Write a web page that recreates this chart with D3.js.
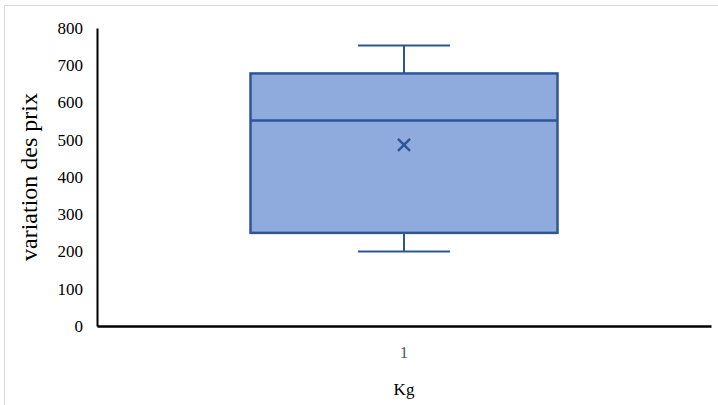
<!DOCTYPE html>
<html>
<head>
<meta charset="utf-8">
<script src="https://cdn.jsdelivr.net/npm/d3@7"></script>
<style>
  body { margin: 0; background: #fff; }
  text { font-family: 'Liberation Serif', 'Times New Roman', serif; }
</style>
</head>
<body>
<div id="svg"></div>
<script>
// data
let categories = ['1']
let boxLow = [250]
let boxHigh = [678]
let medians = [552]
let means = [486]
let whiskerLow = [200]
let whiskerHigh = [753]
let yTicks = [0, 100, 200, 300, 400, 500, 600, 700, 800]

let width = 718, height = 405
let margin = {top: 28, right: 7, bottom: 79, left: 97}

let svg = d3.select('#svg')
.append('svg')
.attr('width', width)
.attr('height', height)

// outer frame
svg.append('rect')
.attr('x', 4.5)
.attr('y', 5.5)
.attr('width', width)
.attr('height', height)
.style('fill', 'none')
.style('stroke', '#d9d9d9')
.style('stroke-width', 1)

let xScale = d3.scaleBand()
.domain(categories)
.range([margin.left, width - margin.right])
.paddingInner(0)
.paddingOuter(0)

let yScale = d3.scaleLinear()
.domain([0, 800])
.range([height - margin.bottom, margin.top])

let boxes = categories.map((c, i) => ({
	cat: c, low: boxLow[i], high: boxHigh[i], median: medians[i],
	mean: means[i], wLow: whiskerLow[i], wHigh: whiskerHigh[i]
}))

let blue = '#2f5597'
let boxW = xScale.bandwidth() * 0.5
let capW = boxW * 0.3

let g = svg.selectAll('.box')
.data(boxes)
.join('g')
.attr('class', 'box')
.attr('transform', d => `translate(${xScale(d.cat) + xScale.bandwidth() / 2}, 0)`)

// whiskers
g.append('line')
.attr('x1', 0).attr('x2', 0)
.attr('y1', d => yScale(d.wHigh)).attr('y2', d => yScale(d.high))
.style('stroke', blue).style('stroke-width', 2)
g.append('line')
.attr('x1', 0).attr('x2', 0)
.attr('y1', d => yScale(d.low)).attr('y2', d => yScale(d.wLow))
.style('stroke', blue).style('stroke-width', 2)
g.append('line')
.attr('x1', -capW / 2).attr('x2', capW / 2)
.attr('y1', d => yScale(d.wHigh)).attr('y2', d => yScale(d.wHigh))
.style('stroke', blue).style('stroke-width', 2)
g.append('line')
.attr('x1', -capW / 2).attr('x2', capW / 2)
.attr('y1', d => yScale(d.wLow)).attr('y2', d => yScale(d.wLow))
.style('stroke', blue).style('stroke-width', 2)

// box
g.append('rect')
.attr('x', -boxW / 2)
.attr('width', boxW)
.attr('y', d => yScale(d.high))
.attr('height', d => yScale(d.low) - yScale(d.high))
.style('fill', '#8faadc')
.style('stroke', blue)
.style('stroke-width', 2.5)

// median
g.append('line')
.attr('x1', -boxW / 2).attr('x2', boxW / 2)
.attr('y1', d => yScale(d.median)).attr('y2', d => yScale(d.median))
.style('stroke', blue).style('stroke-width', 2.5)

// mean marker
g.append('path')
.attr('d', d => {
	let y = yScale(d.mean), s = 6
	return `M${-s},${y - s}L${s},${y + s}M${-s},${y + s}L${s},${y - s}`
})
.style('stroke', blue).style('stroke-width', 2.5).style('fill', 'none')

// axes
let yAxis = svg.append('g')
.attr('transform', `translate(${margin.left}, 0)`)
.call(d3.axisLeft(yScale).tickValues(yTicks).tickSize(0).tickPadding(14))
yAxis.select('.domain').style('stroke', '#000').style('stroke-width', 2)
yAxis.selectAll('text').style('font-size', '17px').style('fill', '#000')
.style('font-family', "'Liberation Serif', serif")

let xAxis = svg.append('g')
.attr('transform', `translate(0, ${height - margin.bottom})`)
.call(d3.axisBottom(xScale).tickSize(0).tickPadding(20))
xAxis.select('.domain').style('stroke', '#000').style('stroke-width', 2.5)
xAxis.selectAll('text').style('font-size', '17px').style('fill', '#595959')
.style('font-family', "'Liberation Serif', serif")

svg.append('text')
.text('variation des prix')
.attr('transform', `translate(37, ${yScale(400)})rotate(-90)`)
.style('text-anchor', 'middle')
.style('font-size', '24px')
.style('fill', '#000')

svg.append('text')
.text('Kg')
.attr('x', xScale('1') + xScale.bandwidth() / 2)
.attr('y', 395)
.style('text-anchor', 'middle')
.style('font-size', '17px')
.style('fill', '#000')
</script>
</body>
</html>
